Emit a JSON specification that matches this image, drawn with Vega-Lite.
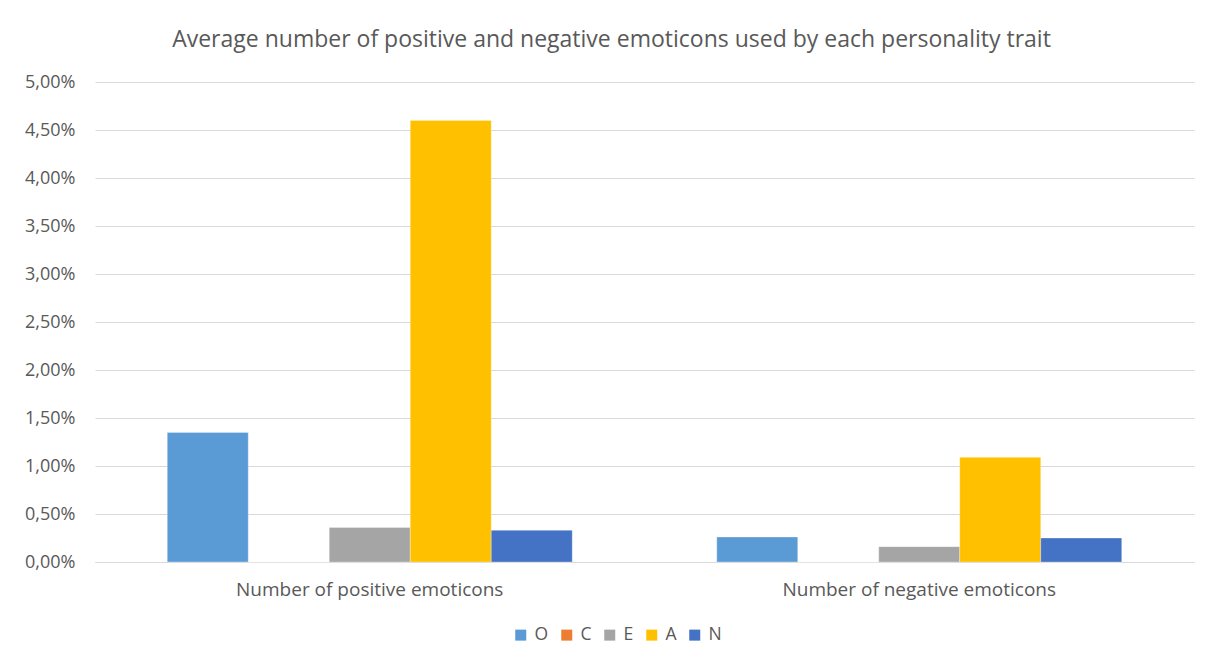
{
  "$schema": "https://vega.github.io/schema/vega-lite/v6.json",
  "autosize": "none",
  "width": 1099,
  "height": 480,
  "padding": {"left": 95, "top": 82, "right": 20, "bottom": 102},
  "background": "white",
  "title": {
    "text": "Average number of positive and negative emoticons used by each personality trait",
    "anchor": "middle",
    "dx": -33,
    "offset": 21,
    "font": "Open Sans",
    "fontSize": 23,
    "fontWeight": "normal",
    "color": "#595959"
  },
  "data": {
    "values": [
      {"measure": "Number of positive emoticons", "trait": "O", "value": 0.0135},
      {"measure": "Number of positive emoticons", "trait": "C", "value": 0.0},
      {"measure": "Number of positive emoticons", "trait": "E", "value": 0.0036},
      {"measure": "Number of positive emoticons", "trait": "A", "value": 0.046},
      {"measure": "Number of positive emoticons", "trait": "N", "value": 0.0033},
      {"measure": "Number of negative emoticons", "trait": "O", "value": 0.0026},
      {"measure": "Number of negative emoticons", "trait": "C", "value": 0.0},
      {"measure": "Number of negative emoticons", "trait": "E", "value": 0.0016},
      {"measure": "Number of negative emoticons", "trait": "A", "value": 0.0109},
      {"measure": "Number of negative emoticons", "trait": "N", "value": 0.0025}
    ]
  },
  "mark": {"type": "bar", "stroke": "white", "strokeWidth": 0.6, "strokeOpacity": 0.5},
  "encoding": {
    "x": {
      "field": "measure",
      "type": "nominal",
      "sort": null,
      "scale": {"paddingInner": 0.263, "paddingOuter": 0.1315},
      "axis": {
        "title": null,
        "labelAngle": 0,
        "labelLimit": 0,
        "ticks": false,
        "domainColor": "#d9d9d9",
        "domainWidth": 1,
        "labelPadding": 18,
        "labelFont": "Open Sans",
        "labelFontSize": 19,
        "labelColor": "#595959"
      }
    },
    "xOffset": {
      "field": "trait",
      "type": "nominal",
      "sort": ["O", "C", "E", "A", "N"],
      "scale": {"paddingInner": 0, "paddingOuter": 0}
    },
    "y": {
      "field": "value",
      "type": "quantitative",
      "scale": {"domain": [0, 0.05], "nice": false},
      "axis": {
        "title": null,
        "format": ".2%",
        "values": [0, 0.005, 0.01, 0.015, 0.02, 0.025, 0.03, 0.035, 0.04, 0.045, 0.05],
        "domain": false,
        "ticks": false,
        "gridColor": "#d9d9d9",
        "gridWidth": 1,
        "labelPadding": 20,
        "labelFont": "Open Sans",
        "labelFontSize": 18,
        "labelColor": "#595959"
      }
    },
    "color": {
      "field": "trait",
      "type": "nominal",
      "sort": ["O", "C", "E", "A", "N"],
      "scale": {
        "domain": ["O", "C", "E", "A", "N"],
        "range": ["#5B9BD5", "#ED7D31", "#A5A5A5", "#FFC000", "#4472C4"]
      },
      "legend": {
        "title": null,
        "orient": "none",
        "direction": "horizontal",
        "legendX": 417,
        "legendY": 544,
        "symbolType": "square",
        "symbolSize": 121,
        "symbolStrokeWidth": 0,
        "labelFont": "Open Sans",
        "labelFontSize": 17.5,
        "labelColor": "#595959",
        "labelOffset": 5,
        "columnPadding": 9
      }
    }
  },
  "config": {
    "view": {"stroke": null},
    "locale": {
      "number": {"decimal": ",", "thousands": ".", "grouping": [3], "currency": ["", " €"]}
    }
  }
}
